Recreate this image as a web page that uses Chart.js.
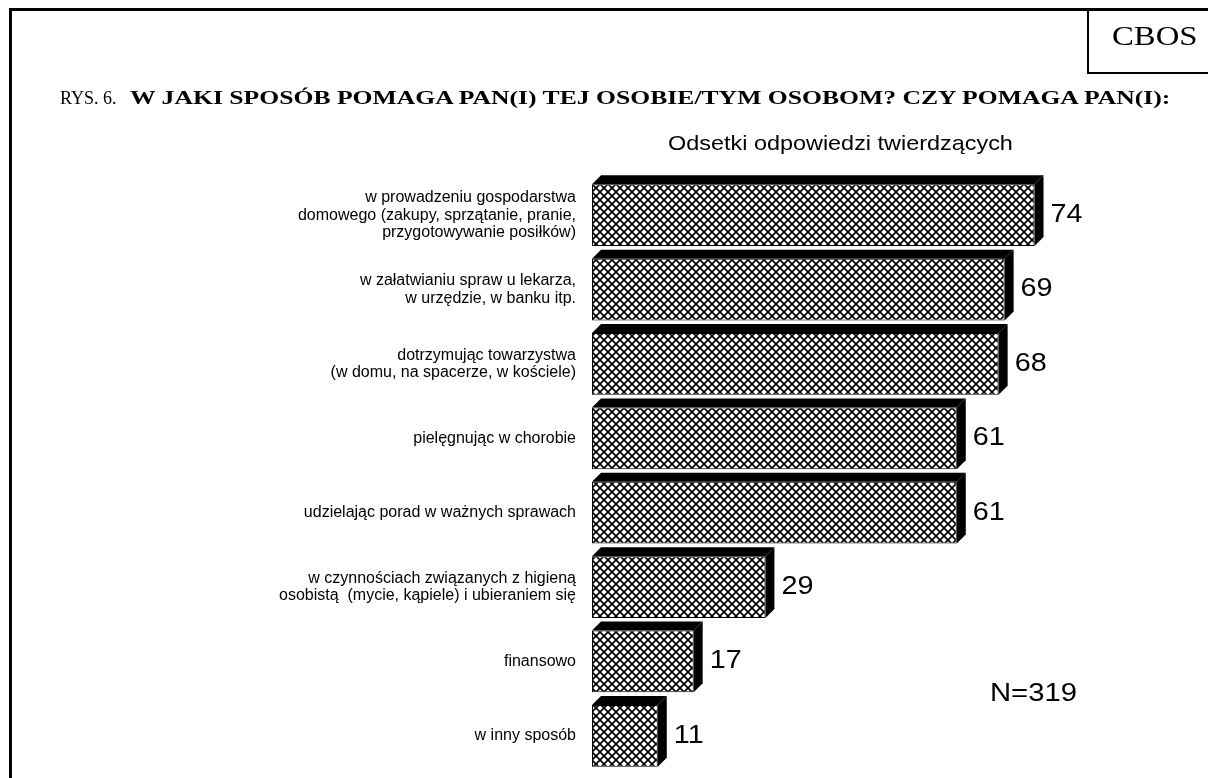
<!DOCTYPE html>
<html>
<head>
<meta charset="utf-8">
<script src="https://cdn.jsdelivr.net/npm/chart.js@4.4.1/dist/chart.umd.min.js"></script>
<style>
  html, body { margin:0; padding:0; background:#fff; width:1208px; height:778px; overflow:hidden; }
  #wrap { position:relative; width:1208px; height:778px; }
  #c { position:absolute; left:0; top:0; }
  .bl { position:absolute; background:#000; }
  .txt { position:absolute; white-space:nowrap; color:#000; transform-origin:0 50%; }
</style>
</head>
<body>
<div id="wrap">
  <canvas id="c" width="1208" height="778"></canvas>
  <div class="bl" style="left:9px;top:8px;width:1199px;height:3px;"></div>
  <div class="bl" style="left:9px;top:8px;width:3px;height:770px;"></div>
  <div class="bl" style="left:1087px;top:8px;width:2px;height:66px;"></div>
  <div class="bl" style="left:1087px;top:72px;width:121px;height:2px;"></div>
  <div class="txt" style="left:1112px;top:20px;font:28px 'Liberation Serif','Times New Roman',serif;line-height:32px;transform:scaleX(1.17);">CBOS</div>
  <div class="txt" style="left:60px;top:88px;font:18px 'Liberation Serif','Times New Roman',serif;line-height:20px;">RYS. 6.<span style="display:inline-block;margin-left:13px;transform-origin:0 50%;transform:scaleX(1.35);font-weight:bold;font-size:19px;">W JAKI SPOSÓB POMAGA PAN(I) TEJ OSOBIE/TYM OSOBOM? CZY POMAGA PAN(I):</span></div>
  <div class="txt" style="left:668px;top:131px;font:21px 'Liberation Sans',Arial,sans-serif;line-height:24px;transform:scaleX(1.115);">Odsetki odpowiedzi twierdzących</div>
  <div class="txt" style="left:990px;top:678px;font:25px 'Liberation Sans',Arial,sans-serif;line-height:28px;transform:scaleX(1.17);">N=319</div>
</div>
<script>
const categories = [
  ["w prowadzeniu gospodarstwa", "domowego (zakupy, sprzątanie, pranie,", "przygotowywanie posiłków)"],
  ["w załatwianiu spraw u lekarza,", "w urzędzie, w banku itp."],
  ["dotrzymując towarzystwa", "(w domu, na spacerze, w kościele)"],
  "pielęgnując w chorobie",
  "udzielając porad w ważnych sprawach",
  ["w czynnościach związanych z higieną", "osobistą  (mycie, kąpiele) i ubieraniem się"],
  "finansowo",
  "w inny sposób"
];
const values = [74, 69, 68, 61, 61, 29, 17, 11];
const axisMax = 100;

function makePattern() {
  const p = document.createElement('canvas');
  p.width = 8; p.height = 8;
  const g = p.getContext('2d');
  g.fillStyle = '#fff'; g.fillRect(0, 0, 8, 8);
  g.strokeStyle = '#000'; g.lineWidth = 1.7;
  for (const dx of [-8, 0, 8]) {
    g.beginPath(); g.moveTo(dx, 0); g.lineTo(dx + 8, 8); g.stroke();
    g.beginPath(); g.moveTo(dx + 8, 0); g.lineTo(dx, 8); g.stroke();
  }
  return document.getElementById('c').getContext('2d').createPattern(p, 'repeat');
}

const D = 9;
const bar3d = {
  id: 'bar3d',
  afterDatasetsDraw(chart) {
    const ctx = chart.ctx;
    const meta = chart.getDatasetMeta(0);
    ctx.save();
    ctx.fillStyle = '#000';
    meta.data.forEach((bar, i) => {
      const p = bar.getProps(['x', 'y', 'base', 'height'], true);
      const top = p.y - p.height / 2, bottom = p.y + p.height / 2;
      const l = p.base, r = p.x;
      ctx.beginPath();
      ctx.moveTo(l, top); ctx.lineTo(l + D, top - D); ctx.lineTo(r + D, top - D); ctx.lineTo(r, top);
      ctx.closePath(); ctx.fill();
      ctx.beginPath();
      ctx.moveTo(r, top); ctx.lineTo(r + D, top - D); ctx.lineTo(r + D, bottom - D); ctx.lineTo(r, bottom);
      ctx.closePath(); ctx.fill();
      ctx.save();
      ctx.translate(r + D + 7, p.y);
      ctx.scale(1.15, 1);
      ctx.font = "25px 'Liberation Sans', Arial, sans-serif";
      ctx.textAlign = 'left'; ctx.textBaseline = 'middle';
      ctx.fillText(String(values[i]), 0, 0);
      ctx.restore();
    });
    ctx.restore();
  }
};

new Chart(document.getElementById('c'), {
  type: 'bar',
  data: {
    labels: categories,
    datasets: [{
      data: values,
      backgroundColor: makePattern(),
      borderColor: '#000',
      borderWidth: 1,
      borderSkipped: false,
      categoryPercentage: 1,
      barPercentage: 0.83
    }]
  },
  options: {
    indexAxis: 'y',
    responsive: false,
    animation: false,
    events: [],
    layout: { padding: { left: 0, right: 18, top: 178, bottom: 5 } },
    plugins: { legend: { display: false }, tooltip: { enabled: false }, title: { display: false } },
    scales: {
      x: { display: false, min: 0, max: axisMax },
      y: {
        grid: { display: false, drawTicks: false },
        border: { display: false },
        ticks: {
          color: '#000',
          padding: 16,
          font: { family: "'Liberation Sans', Arial, sans-serif", size: 16, lineHeight: 1.08 }
        },
        afterFit(scale) { scale.width = 592; scale.paddingTop = 0; scale.paddingBottom = 0; }
      }
    }
  },
  plugins: [bar3d]
});
</script>
</body>
</html>
